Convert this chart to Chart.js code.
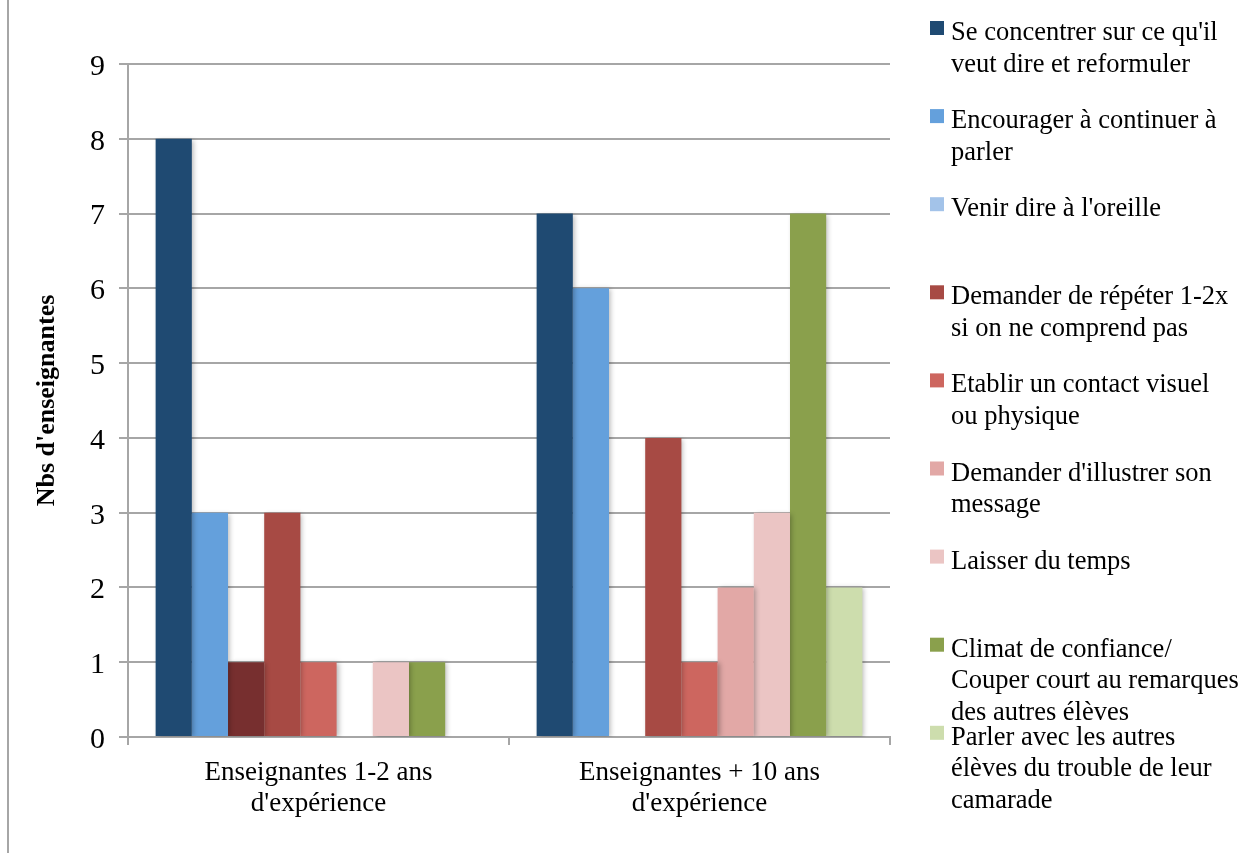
<!DOCTYPE html>
<html lang="fr">
<head>
    <meta charset="utf-8">
    <title>Nbs d'enseignantes</title>
    <style>
        html, body { margin: 0; padding: 0; background: #fff; }
        .wrap { width: 1241px; height: 853px; position: relative; }
    </style>
</head>
<body>

    <div class="wrap">
        <canvas id="myChart" width="1241" height="853"></canvas>
    </div>

    <script src="https://cdn.jsdelivr.net/npm/chart.js"></script>
    <script>
        // categories (x axis, two lines each)
        const categories = [
            ['Enseignantes 1-2 ans', "d'expérience"],
            ['Enseignantes + 10 ans', "d'expérience"]
        ];

        // series names, split on the legend lines
        const seriesNames = [
            ["Se concentrer sur ce qu'il", 'veut dire et reformuler'],
            ['Encourager à continuer à', 'parler'],
            ["Venir dire à l'oreille"],
            ['Demander de répéter 1-2x', 'si on ne comprend pas'],
            ['Etablir un contact visuel', 'ou physique'],
            ["Demander d'illustrer son", 'message'],
            ['Laisser du temps'],
            ['Climat de confiance/', 'Couper court au remarques', 'des autres élèves'],
            ['Parler avec les autres', 'élèves du trouble de leur', 'camarade']
        ];

        const concentrer = [8, 7];
        const encourager = [3, 6];
        const oreille = [1, 0];
        const repeter = [3, 4];
        const contact = [1, 1];
        const illustrer = [0, 2];
        const temps = [1, 3];
        const climat = [1, 7];
        const parler = [0, 2];

        const yTicks = [0, 1, 2, 3, 4, 5, 6, 7, 8, 9];

        const colors = ['#1F4A72', '#64A0DC', '#A3C3E9', '#A74A44', '#CD665F',
                        '#E2A8A6', '#EBC5C4', '#8AA04C', '#CDDDAD'];
        // the first "oreille" bar was recoloured in the original sheet
        const oreilleBarColors = ['#772F2F', '#A3C3E9'];

        const serif = "'Liberation Serif', 'Times New Roman', serif";

        const values = [concentrer, encourager, oreille, repeter, contact,
                        illustrer, temps, climat, parler];

        const datasets = values.map(function (v, k) {
            return {
                label: seriesNames[k].join(' '),
                data: v,
                backgroundColor: k === 2 ? oreilleBarColors : colors[k],
                legendColor: colors[k],
                legendLines: seriesNames[k],
                borderWidth: 0,
                categoryPercentage: 0.855,
                barPercentage: 1.0
            };
        });

        // soft shadow under the bars
        const barShadow = {
            id: 'barShadow',
            beforeDatasetsDraw(chart) {
                const ctx = chart.ctx;
                ctx.save();
                ctx.shadowColor = 'rgba(0,0,0,0.28)';
                ctx.shadowBlur = 5;
                ctx.shadowOffsetX = 2;
                ctx.shadowOffsetY = 1;
            },
            afterDatasetsDraw(chart) {
                chart.ctx.restore();
            }
        };

        // frame line on the left + the legend on the right
        const sideLegend = {
            id: 'sideLegend',
            beforeDraw(chart) {
                const ctx = chart.ctx;
                ctx.save();
                ctx.fillStyle = '#A6A6A6';
                ctx.fillRect(7, 0, 2, chart.height);
                ctx.restore();
            },
            afterDraw(chart) {
                const ctx = chart.ctx;
                const x0 = 930, textX = 951;
                const firstBase = 40, step = 88.1, lineH = 31.5;
                ctx.save();
                ctx.font = '26.5px ' + serif;
                ctx.textBaseline = 'alphabetic';
                ctx.textAlign = 'left';
                chart.data.datasets.forEach(function (ds, k) {
                    const base = firstBase + k * step;
                    ctx.fillStyle = ds.legendColor;
                    ctx.fillRect(x0, base - 19, 14, 14);
                    ctx.fillStyle = '#000';
                    ds.legendLines.forEach(function (line, j) {
                        ctx.fillText(line, textX, base + j * lineH);
                    });
                });
                ctx.restore();
            }
        };

        const config = {
            type: 'bar',
            data: { labels: categories, datasets: datasets },
            options: {
                responsive: false,
                animation: false,
                layout: { padding: { top: 64, right: 351, bottom: 0, left: 0 } },
                plugins: {
                    legend: { display: false },
                    tooltip: { enabled: false }
                },
                scales: {
                    x: {
                        grid: {
                            offset: true,
                            drawOnChartArea: false,
                            drawTicks: true,
                            tickLength: 8,
                            color: '#A6A6A6',
                            lineWidth: 2
                        },
                        border: { color: '#A6A6A6', width: 2 },
                        ticks: {
                            color: '#000',
                            font: { family: serif, size: 27, lineHeight: 1.15 },
                            padding: 12,
                            maxRotation: 0
                        },
                        afterFit(scale) { scale.height = 116; }
                    },
                    y: {
                        min: 0,
                        max: 9,
                        afterBuildTicks(scale) {
                            scale.ticks = yTicks.map(function (v) { return { value: v }; });
                        },
                        grid: {
                            color: '#A6A6A6',
                            lineWidth: 2,
                            tickLength: 9
                        },
                        border: { color: '#A6A6A6', width: 2 },
                        ticks: {
                            color: '#000',
                            font: { family: serif, size: 30 },
                            padding: 14,
                            labelOffset: 3
                        },
                        title: {
                            display: true,
                            text: "Nbs d'enseignantes",
                            color: '#000',
                            font: { family: serif, size: 26, weight: 'bold' },
                            padding: { top: 32, bottom: 0 }
                        },
                        afterFit(scale) { scale.width = 128; }
                    }
                }
            },
            plugins: [barShadow, sideLegend]
        };

        const myChart = new Chart(document.getElementById('myChart'), config);
    </script>

</body>
</html>
